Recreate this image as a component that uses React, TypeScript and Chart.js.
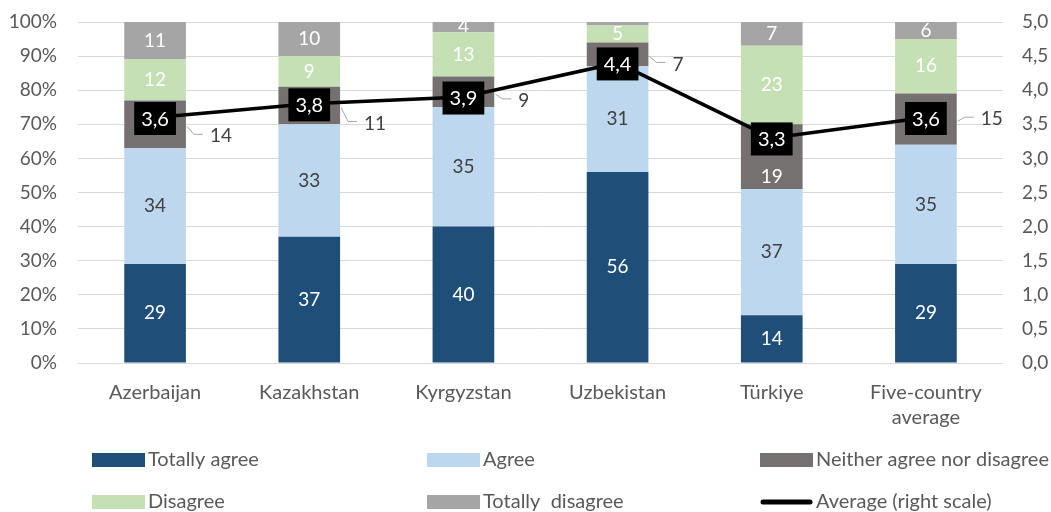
import React, { useEffect, useRef } from "react";
import { Chart, registerables } from "chart.js";

Chart.register(...registerables);

const categories: (string | string[])[] = [
  "Azerbaijan",
  "Kazakhstan",
  "Kyrgyzstan",
  "Uzbekistan",
  "Türkiye",
  ["Five-country", "average"],
];

const totallyAgree = [29, 37, 40, 56, 14, 29];
const agree = [34, 33, 35, 31, 37, 35];
const neither = [14, 11, 9, 7, 19, 15];
const disagree = [12, 9, 13, 5, 23, 16];
const totallyDisagree = [11, 10, 4, 1, 7, 6];
const average = [3.6, 3.8, 3.9, 4.4, 3.3, 3.6];

const seriesNames = [
  "Totally agree",
  "Agree",
  "Neither agree nor disagree",
  "Disagree",
  "Totally  disagree",
  "Average (right scale)",
];

const leftTicks = [0, 10, 20, 30, 40, 50, 60, 70, 80, 90, 100];
const rightTicks = [0, 0.5, 1, 1.5, 2, 2.5, 3, 3.5, 4, 4.5, 5];

// style config
const COLORS = ["#1F4E79", "#BDD7EE", "#767171", "#C5E0B4", "#A5A5A5"];
const LABEL_COLORS = ["#FFFFFF", "#404040", "#FFFFFF", "#FFFFFF", "#FFFFFF"];
const FONT = "Lato, 'Open Sans', sans-serif";
const TEXT = "#595959";
// vertical nudge (px) of the "Neither" callout labels; null = drawn inside the bar
const neitherCalloutDy: (number | null)[] = [12, 18, 9, 10, null, 0];

const fmtComma = (v: number) => v.toFixed(1).replace(".", ",");

const labelsPlugin = {
  id: "customLabels",
  afterDatasetDraw(chart: any, args: any) {
    const i = args.index;
    if (i > 4) return;
    const ctx = chart.ctx;
    const meta = chart.getDatasetMeta(i);
    const ds = chart.data.datasets[i];
    ctx.save();
    ctx.font = `19px ${FONT}`;
    ctx.textBaseline = "middle";
    meta.data.forEach((bar: any, j: number) => {
      const v = ds.data[j] as number;
      if (v < 2) return;
      const top = Math.max(bar.y, chart.chartArea.top);
      const cy = (top + bar.base) / 2;
      if (i === 2) {
        const dy = neitherCalloutDy[j];
        if (dy === null) {
          ctx.fillStyle = LABEL_COLORS[i];
          ctx.textAlign = "center";
          ctx.fillText(String(v), bar.x, cy + 20);
        } else {
          const right = bar.x + bar.width / 2;
          const ly = cy + dy;
          ctx.strokeStyle = "#A6A6A6";
          ctx.lineWidth = 1;
          ctx.beginPath();
          ctx.moveTo(right + 1, cy + 2);
          ctx.lineTo(right + 8, ly - 2);
          ctx.lineTo(right + 17, ly - 2);
          ctx.stroke();
          ctx.fillStyle = "#404040";
          ctx.textAlign = "left";
          ctx.fillText(String(v), right + 24, ly);
        }
        return;
      }
      ctx.fillStyle = LABEL_COLORS[i];
      ctx.textAlign = "center";
      ctx.fillText(String(v), bar.x, cy);
    });
    ctx.restore();
  },
  afterDatasetsDraw(chart: any) {
    const ctx = chart.ctx;
    const meta = chart.getDatasetMeta(5);
    ctx.save();
    ctx.font = `20px ${FONT}`;
    ctx.textAlign = "center";
    ctx.textBaseline = "middle";
    meta.data.forEach((pt: any, j: number) => {
      const t = fmtComma(average[j]);
      const w = ctx.measureText(t).width + 14;
      const h = 33;
      ctx.fillStyle = "#000000";
      ctx.fillRect(pt.x - w / 2, pt.y - h / 2 + 1, w, h);
      ctx.fillStyle = "#FFFFFF";
      ctx.fillText(t, pt.x, pt.y + 2);
    });
    ctx.restore();
  },
  afterDraw(chart: any) {
    const ctx = chart.ctx;
    const cols = [92, 427, 760];
    const rows = [460, 502];
    ctx.save();
    ctx.font = `20px ${FONT}`;
    ctx.textBaseline = "middle";
    ctx.textAlign = "left";
    seriesNames.forEach((name, k) => {
      const x = cols[k % 3];
      const y = rows[Math.floor(k / 3)];
      if (k < 5) {
        ctx.fillStyle = COLORS[k];
        ctx.fillRect(x, y - 7, 53, 14);
      } else {
        ctx.strokeStyle = "#000000";
        ctx.lineWidth = 5;
        ctx.lineCap = "round";
        ctx.beginPath();
        ctx.moveTo(x + 3, y);
        ctx.lineTo(x + 50, y);
        ctx.stroke();
      }
      ctx.fillStyle = TEXT;
      ctx.fillText(name, x + 56, y);
    });
    ctx.restore();
  },
};

export default function App() {
  const ref = useRef<HTMLCanvasElement | null>(null);
  useEffect(() => {
    document.body.style.margin = "0";
    if (!ref.current) return;
    const barSets = [totallyAgree, agree, neither, disagree, totallyDisagree].map((d, i) => ({
      type: "bar" as const,
      label: seriesNames[i],
      data: d,
      backgroundColor: COLORS[i],
      borderWidth: 0,
      yAxisID: "y",
      stack: "s",
      order: 1,
      barPercentage: 0.4,
      categoryPercentage: 1,
    }));
    const chart = new Chart(ref.current, {
      type: "bar",
      data: {
        labels: categories as any,
        datasets: [
          ...barSets,
          {
            type: "line" as const,
            label: seriesNames[5],
            data: average,
            borderColor: "#000000",
            borderWidth: 3.5,
            pointRadius: 0,
            yAxisID: "y1",
            order: 0,
            tension: 0,
          } as any,
        ],
      },
      options: {
        responsive: false,
        animation: false,
        layout: { padding: { top: 22, left: 0, right: 0, bottom: 0 } },
        plugins: { legend: { display: false }, tooltip: { enabled: false } },
        scales: {
          x: {
            stacked: true,
            grid: { display: false, drawTicks: false },
            border: { display: false },
            ticks: {
              color: TEXT,
              font: { family: FONT, size: 20, lineHeight: 1.25 },
              padding: 17,
              maxRotation: 0,
              autoSkip: false,
            },
            afterFit: (s: any) => {
              s.height = 149;
            },
          },
          y: {
            stacked: true,
            position: "left",
            min: 0,
            max: 100,
            afterBuildTicks: (s: any) => {
              s.ticks = leftTicks.map((v) => ({ value: v }));
            },
            grid: { color: "#D9D9D9", lineWidth: 1, drawTicks: false },
            border: { display: false },
            ticks: {
              color: TEXT,
              font: { family: FONT, size: 19 },
              padding: 21,
              callback: (v: any) => `${v}%`,
            },
            afterFit: (s: any) => {
              s.width = 78;
              s.paddingTop = 10;
              s.paddingBottom = 10;
            },
          },
          y1: {
            position: "right",
            min: 0,
            max: 5,
            afterBuildTicks: (s: any) => {
              s.ticks = rightTicks.map((v) => ({ value: v }));
            },
            grid: { display: false, drawTicks: false },
            border: { display: false },
            ticks: {
              color: TEXT,
              font: { family: FONT, size: 19 },
              padding: 19,
              callback: (v: any) => fmtComma(Number(v)),
            },
            afterFit: (s: any) => {
              s.width = 48;
              s.paddingTop = 10;
              s.paddingBottom = 10;
            },
          },
        },
      },
      plugins: [labelsPlugin],
    });
    return () => chart.destroy();
  }, []);
  return (
    <div style={{ width: 1051, height: 512, background: "#FFFFFF" }}>
      <canvas ref={ref} width={1051} height={512} style={{ display: "block" }} />
    </div>
  );
}
